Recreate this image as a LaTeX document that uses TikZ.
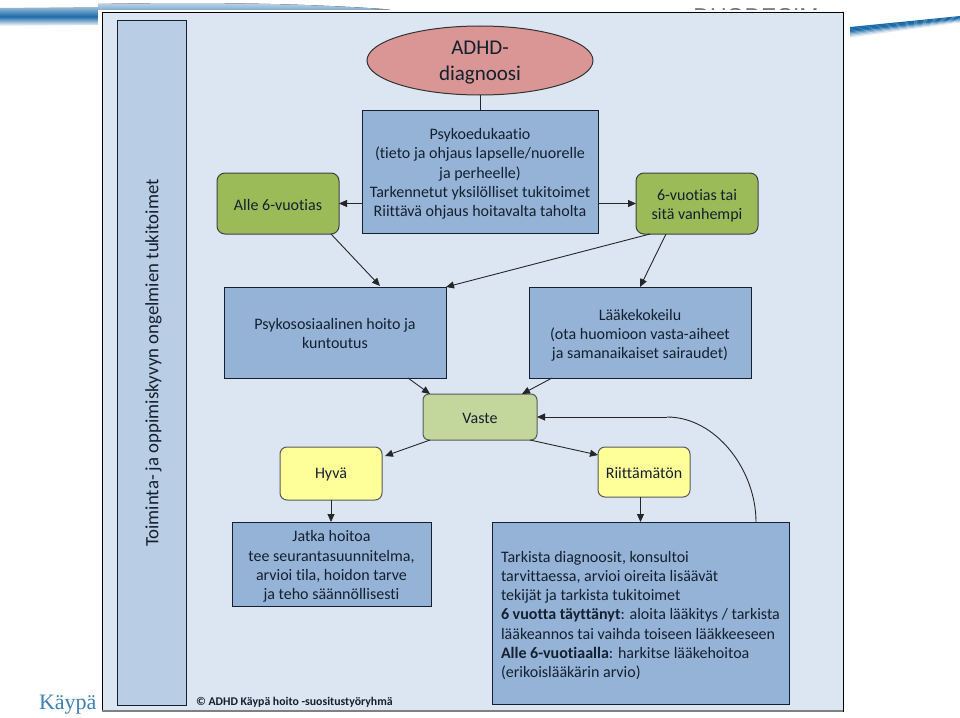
\documentclass[tikz,border=0pt]{standalone}
\usepackage{fontspec}
\setmainfont[Ligatures=NoCommon]{Carlito}
\newfontfamily\kayfont{Liberation Serif}
\newfontfamily\duofont{Liberation Sans}
\usetikzlibrary{shapes.geometric,arrows.meta,calc}
\definecolor{panelc}{HTML}{DCE6F2}
\definecolor{barc}{HTML}{B9CDE5}
\definecolor{bluec}{HTML}{95B3D7}
\definecolor{greenc}{HTML}{9BBB59}
\definecolor{lgreenc}{HTML}{C3D69B}
\definecolor{yelc}{HTML}{FFFF99}
\definecolor{redc}{HTML}{D99694}
\definecolor{inkc}{HTML}{14202E}
\definecolor{bandc}{HTML}{1C6AA8}
\tikzset{
  every node/.style={text=inkc,inner sep=0pt,outer sep=0pt},
  txt/.style={font=\fontsize{16}{19.3}\selectfont,align=center},
  bluebox/.style={draw=inkc,line width=1pt,fill=bluec},
  greenbox/.style={draw=black!75,line width=1pt,fill=greenc,rounded corners=8pt},
  vastebox/.style={draw=black!65,line width=1pt,fill=lgreenc,rounded corners=6pt},
  yelbox/.style={draw=black!65,line width=1pt,fill=yelc,rounded corners=7pt},
  arr/.style={-{Triangle[length=8pt,width=7pt]},line width=0.9pt,draw=black!85},
  plainline/.style={line width=0.9pt,draw=black!85},
}
\begin{document}
\begin{tikzpicture}[x=1pt,y=-1pt]
\useasboundingbox (0,0) rectangle (960,717);
\fill[white] (0,0) rectangle (960,717);
% decorative swooshes
\fill[top color=bandc!25,middle color=bandc,bottom color=bandc!60] (98,11) -- (98,4) .. controls (200,2) and (300,3) .. (390,9.5) -- (300,11) -- cycle;
\shade[top color=bandc!45,bottom color=white,middle color=bandc] (0,8) -- (98,7) -- (98,25) -- (0,26) -- cycle;
\foreach \i/\c in {0/100,1/100,2/100,3/90,4/70,5/50,6/32,7/15}{
  \fill[bandc!\c] (850,{27+\i*1.3}) -- (960,{16+\i*0.8}) -- (960,{16.9+\i*0.8}) -- (850,{28.5+\i*1.3}) -- cycle;
}
\node[anchor=base,font=\duofont\fontsize{23}{23}\selectfont,text=gray!90!black] (duo) at (756,25) {DUODECIM};
\node[anchor=base west,font=\kayfont\fontsize{22}{22}\selectfont,text=bandc!85] (kay) at (39,709) {Käypä};
% panel
\fill[white] (98,10) rectangle (846,717);
\node[draw=black,line width=1pt,fill=panelc,minimum width=741pt,minimum height=698pt] (panel) at (472.5,362) {};
\draw[draw=gray,line width=1.6pt] (panel.south west) -- (panel.south east);
\node[draw=inkc,line width=1pt,fill=barc,minimum width=69pt,minimum height=684pt] (bar) at (151.5,363) {};
\node[rotate=90,font=\fontsize{18.8}{20}\selectfont] (bartxt) at (153.5,363) {Toiminta- ja oppimiskyvyn ongelmien tukitoimet};
% boxes
\node[ellipse,draw=black!80,line width=1pt,fill=redc,minimum width=226pt,minimum height=69pt] (adhd) at (480,60.5) {};
\node[bluebox,minimum width=236pt,minimum height=123pt] (psyko) at (480,171.5) {};
\node[greenbox,minimum width=122pt,minimum height=61pt] (alle) at (278,203.5) {};
\node[greenbox,minimum width=122pt,minimum height=61pt] (vanh) at (697,203.5) {};
\node[bluebox,minimum width=222pt,minimum height=91pt] (hoito) at (335,332.5) {};
\node[bluebox,minimum width=222pt,minimum height=91pt] (laake) at (640,332.5) {};
\node[vastebox,minimum width=114pt,minimum height=46pt] (vaste) at (480,417) {};
\node[yelbox,minimum width=102pt,minimum height=53pt] (hyva) at (331,473.5) {};
\node[yelbox,minimum width=92pt,minimum height=50pt] (riit) at (644,472) {};
\node[bluebox,minimum width=199pt,minimum height=84pt] (jatka) at (331.5,564) {};
\node[bluebox,minimum width=297pt,minimum height=182pt] (tark) at (640.5,613) {};
% texts
\node[align=center,font=\fontsize{21}{26}\selectfont] (adhdtxt) at ($(adhd.center)+(0,2.5)$) {ADHD-\\diagnoosi};
\node[txt] (psykotxt) at ($(psyko.center)+(0,2.5)$) {Psykoedukaatio\\(tieto ja ohjaus lapselle/nuorelle\\ja perheelle)\\Tarkennetut yksilölliset tukitoimet\\Riittävä ohjaus hoitavalta taholta};
\node[txt] (alletxt) at ($(alle.center)+(0,1.5)$) {Alle 6-vuotias};
\node[txt] (vanhtxt) at ($(vanh.center)+(0,2.5)$) {6-vuotias tai\\sitä vanhempi};
\node[txt] (hoitotxt) at ($(hoito.center)+(0,1)$) {Psykososiaalinen hoito ja\\kuntoutus};
\node[txt] (laaketxt) at ($(laake.center)+(0,3)$) {Lääkekokeilu\\(ota huomioon vasta-aiheet\\ja samanaikaiset sairaudet)};
\node[txt] (vastetxt) at ($(vaste.center)+(0,1)$) {Vaste};
\node[txt] (hyvatxt) at ($(hyva.center)+(0,1)$) {Hyvä};
\node[txt] (riittxt) at ($(riit.center)+(0,1)$) {Riittämätön};
\node[txt] (jatkatxt) at ($(jatka.center)+(0,2.5)$) {Jatka hoitoa\\tee seurantasuunnitelma,\\arvioi tila, hoidon tarve\\ja teho säännöllisesti};
\node[anchor=west,txt,align=left] (tarktxt) at (501,615.5) {Tarkista diagnoosit, konsultoi\\tarvittaessa, arvioi oireita lisäävät\\tekijät ja tarkista tukitoimet\\\textbf{6 vuotta täyttänyt}: aloita lääkitys / tarkista\\lääkeannos tai vaihda toiseen lääkkeeseen\\\textbf{Alle 6-vuotiaalla}: harkitse lääkehoitoa\\(erikoislääkärin arvio)};
\node[anchor=base west,font=\bfseries\fontsize{11.8}{13}\selectfont] (copy) at (196,705) {© ADHD Käypä hoito -suositustyöryhmä};
% connectors
\draw[plainline] (adhd.south) -- (psyko.north);
\draw[arr] (psyko.west |- alle.east) -- (alle.east);
\draw[arr] (psyko.east |- vanh.west) -- (vanh.west);
\draw[arr] ($(alle.south east)+(-8,0)$) -- ($(hoito.north west)+(156,-1)$);
\draw[arr] ($(vanh.south west)+(14,0)$) -- (hoito.north east);
\draw[arr] ($(vanh.south west)+(30,0)$) -- (laake.north);
\draw[arr] ($(hoito.south east)+(-38,0)$) -- ($(vaste.north west)+(7,0)$);
\draw[arr] ($(laake.south west)+(23,0)$) -- ($(vaste.north east)+(-15,0)$);
\draw[arr] ($(vaste.south west)+(7,0)$) -- ($(hyva.north east)+(3,9)$);
\draw[arr] ($(vaste.south east)+(-7,0)$) -- ($(riit.north west)+(0,8)$);
\draw[arr] (hyva.south) -- (jatka.north -| hyva.south);
\draw[arr] (riit.south -| tark.north) -- (tark.north);
\coordinate (bend) at (667,417);
\draw[plainline] ($(tark.north west)+(264,0)$) .. controls (756,470) and (716,417) .. (bend);
\draw[arr] (bend) -- (vaste.east);
\end{tikzpicture}
\end{document}
